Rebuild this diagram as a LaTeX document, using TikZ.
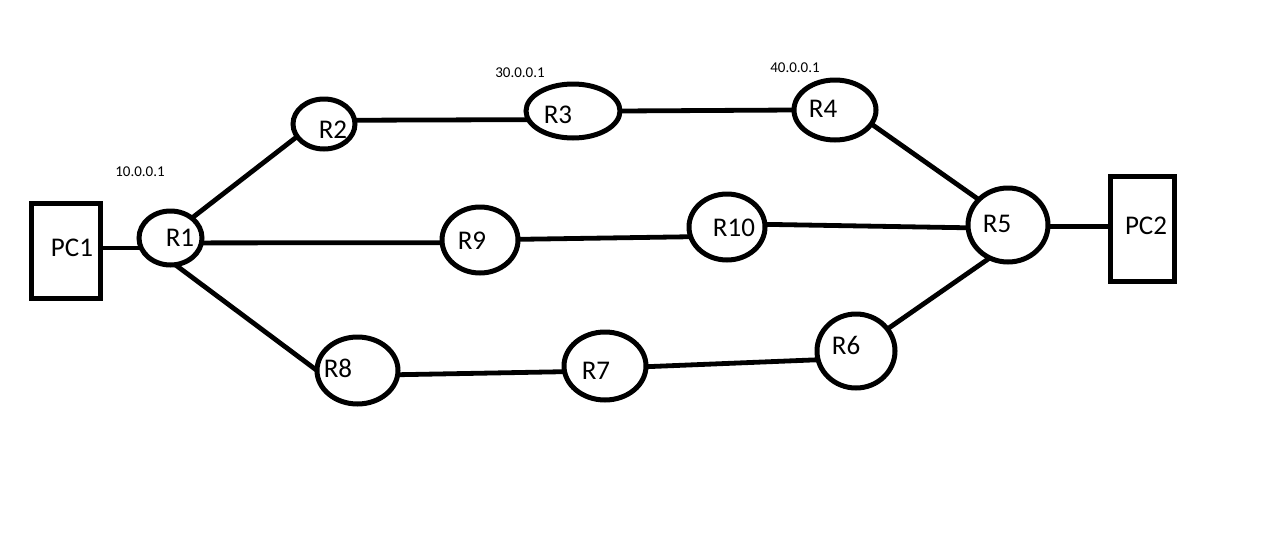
\documentclass[tikz,border=0pt]{standalone}
\usepackage{fontspec}
\setmainfont{Carlito}
\usetikzlibrary{shapes.geometric}
\begin{document}
\begin{tikzpicture}[x=1pt,y=-1pt,
  router/.style={draw,ellipse,line width=5pt,inner sep=0pt,outer sep=0pt},
  pcbox/.style={draw,rectangle,line width=5pt,inner sep=0pt,outer sep=0pt},
  link/.style={line width=4.8pt},
  lbl/.style={inner sep=0pt,font=\fontsize{27}{27}\selectfont},
  ip/.style={inner sep=0pt,font=\fontsize{15}{15}\selectfont}]
\useasboundingbox (0,0) rectangle (1265,557);

% end hosts
\node[pcbox,minimum width=68.5pt,minimum height=95pt] (pc1) at (65.75,250.5) {};
\node[pcbox,minimum width=64pt,minimum height=105pt] (pc2) at (1142.5,228.5) {};

% routers
\node[router,minimum width=63pt,minimum height=54pt] (r1) at (170.5,238) {};
\node[router,minimum width=62pt,minimum height=50pt] (r2) at (324,124) {};
\node[router,minimum width=94pt,minimum height=54pt] (r3) at (573,111) {};
\node[router,minimum width=82pt,minimum height=60pt] (r4) at (835,110) {};
\node[router,minimum width=80pt,minimum height=74pt] (r5) at (1008,225) {};
\node[router,minimum width=78pt,minimum height=74pt] (r6) at (856,351) {};
\node[router,minimum width=82pt,minimum height=68pt] (r7) at (605,366) {};
\node[router,minimum width=81pt,minimum height=67pt] (r8) at (357.5,370.5) {};
\node[router,minimum width=76pt,minimum height=66pt] (r9) at (480,240) {};
\node[router,minimum width=76pt,minimum height=66pt] (r10) at (727,227) {};

% names
\node[lbl] (t-pc1) at (72,248) {PC1};
\node[lbl] (t-pc2) at (1146,226) {PC2};
\node[lbl] (t-r1) at (180,238) {R1};
\node[lbl] (t-r2) at (333,130) {R2};
\node[lbl] (t-r3) at (558,115) {R3};
\node[lbl] (t-r4) at (823,109) {R4};
\node[lbl] (t-r5) at (997,224) {R5};
\node[lbl] (t-r6) at (846,345) {R6};
\node[lbl] (t-r7) at (596,371) {R7};
\node[lbl] (t-r8) at (338,368) {R8};
\node[lbl] (t-r9) at (472,241) {R9};
\node[lbl] (t-r10) at (734,228) {R10};

% addresses
\node[ip] (ip1) at (140,172) {10.0.0.1};
\node[ip] (ip3) at (520,73) {30.0.0.1};
\node[ip] (ip4) at (795,68) {40.0.0.1};

% links
\draw[link] (r1.199 -| pc1.east) -- (r1.199);
\draw[link] (r1.43) -- (r2.205);
\draw[link] (r2.7) -- (r3.191.5);
\draw[link] (r3.east) -- (r4.west);
\draw[link] (r4.-21) -- (r5.139.7);
\draw[link] (r1.-9.2) -- (r9.184.5);
\draw[link] (r9.1.5) -- (r10.195.4);
\draw[link] (r10.4.5) -- (r5.184.3);
\draw[link] (r5.-2.9) -- (r5.-2.9 -| pc2.west);
\draw[link] (r5.241.3) -- (r6.35);
\draw[link] (r1.-80) -- (r8.west);
\draw[link] (r8.-6.4) -- (r7.188.4);
\draw[link] (r7.-1.5) -- (r6.193.4);
\end{tikzpicture}
\end{document}
